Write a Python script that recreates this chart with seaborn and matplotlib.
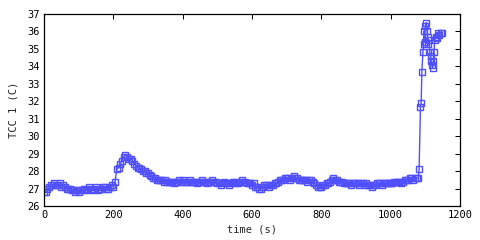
import numpy as np
import pandas as pd
import matplotlib
matplotlib.use("Agg")
import matplotlib.pyplot as plt
import seaborn as sns

# regular 5 s sampling, 0..1080 s
time_regular = np.arange(0, 1085, 5)
temp_regular = [
    26.8, 26.8, 27.0, 27.1, 27.2, 27.2, 27.3, 27.2, 27.2, 27.3, 27.1, 27.2,
    27.1, 27.0, 27.0, 27.0, 26.9, 26.9, 26.8, 26.9, 26.8, 26.9, 26.9, 27.0,
    27.0, 26.9, 27.1, 27.0, 26.9, 27.0, 27.1, 26.9, 27.0, 27.0, 27.1, 27.1, 27.0, 27.0, 27.1, 27.2,
    27.1, 27.4, 28.1, 28.2, 28.4, 28.6, 28.8, 28.9, 28.8, 28.7, 28.7, 28.6,
    28.4, 28.3, 28.2, 28.2, 28.1, 28.0, 28.0, 27.9, 27.9, 27.8, 27.7, 27.6,
    27.6, 27.5, 27.5, 27.5, 27.5, 27.4, 27.5, 27.4, 27.4, 27.4, 27.4, 27.3, 27.4, 27.4, 27.5, 27.4,
    27.5, 27.4, 27.4, 27.4, 27.5, 27.4, 27.4, 27.4, 27.3, 27.4, 27.4, 27.5, 27.4, 27.4, 27.3, 27.4, 27.4, 27.5, 27.4, 27.4,
    27.3, 27.3, 27.2, 27.3, 27.4, 27.3, 27.3, 27.2, 27.3, 27.4, 27.4, 27.3, 27.3, 27.4, 27.5, 27.4, 27.4, 27.3, 27.3, 27.3,
    27.2, 27.3, 27.1, 27.1, 27.0, 27.0, 27.1, 27.2, 27.2, 27.2, 27.1, 27.2, 27.2, 27.3, 27.3, 27.4, 27.5, 27.5, 27.5, 27.6,
    27.6, 27.6, 27.5, 27.6, 27.7, 27.6, 27.6, 27.5, 27.5, 27.5, 27.5, 27.5, 27.4, 27.5, 27.5, 27.4, 27.3, 27.2, 27.1, 27.1,
    27.1, 27.2, 27.2, 27.3, 27.3, 27.4, 27.5, 27.6, 27.5, 27.5, 27.4, 27.4, 27.4, 27.3, 27.3, 27.3, 27.3, 27.2, 27.3, 27.3,
    27.3, 27.3, 27.2, 27.3, 27.3, 27.2, 27.3, 27.2, 27.2, 27.1, 27.2, 27.2, 27.3, 27.3, 27.3, 27.2, 27.3, 27.3, 27.3, 27.3,
    27.3, 27.3, 27.4, 27.4, 27.4, 27.4, 27.3, 27.4, 27.5, 27.5, 27.5, 27.6, 27.6, 27.5, 27.6, 27.6, 27.6,
]

# fast sampling during the final spike
time_spike = [1082, 1086, 1088, 1090, 1093, 1095, 1096, 1098, 1100, 1103, 1105, 1107, 1109, 1111,
              1113, 1115, 1117, 1119, 1121, 1123, 1125, 1127, 1130, 1133, 1136, 1140, 1144, 1148]
temp_spike = [28.1, 31.7, 31.9, 33.7, 34.8, 35.3, 36.0, 35.4, 36.3, 36.5, 36.0, 35.7, 35.3, 35.5,
              34.8, 34.6, 34.3, 34.1, 33.9, 34.3, 34.8, 35.5, 35.7, 35.6, 35.9, 35.8, 35.9, 35.9]

x_ticks = [0, 200, 400, 600, 800, 1000, 1200]
y_ticks = [26, 27, 28, 29, 30, 31, 32, 33, 34, 35, 36, 37]

df = pd.DataFrame({
    "time": list(time_regular) + time_spike,
    "temp": temp_regular + temp_spike,
})

sns.set_style("white")
plt.rcParams['font.family'] = ['DejaVu Sans Mono']

fig = plt.figure(figsize=(4.8, 2.4), dpi=100)
ax = fig.add_axes([44/480, 34/240, 416/480, 192/240])
color = '#5050ff'
sns.lineplot(data=df, x="time", y="temp", ax=ax, estimator=None, sort=False,
             color=color, lw=1.0, marker='s', markersize=4.6,
             markerfacecolor='none', markeredgecolor=color, markeredgewidth=1.0)

ax.set_xlim(0, 1200)
ax.set_ylim(26, 37)
ax.set_xticks(x_ticks)
ax.set_yticks(y_ticks)
ax.set_xlabel("time (s)", fontsize=7.5, labelpad=3)
ax.set_ylabel("TCC 1 (C)", fontsize=7.5, labelpad=6)
ax.tick_params(direction='in', length=3.5, width=0.75, labelsize=7.5,
               top=True, right=True, pad=3, colors='black')
for s in ax.spines.values():
    s.set_visible(True)
    s.set_linewidth(0.9)
    s.set_color('black')

fig.savefig("out.png", dpi=100)
